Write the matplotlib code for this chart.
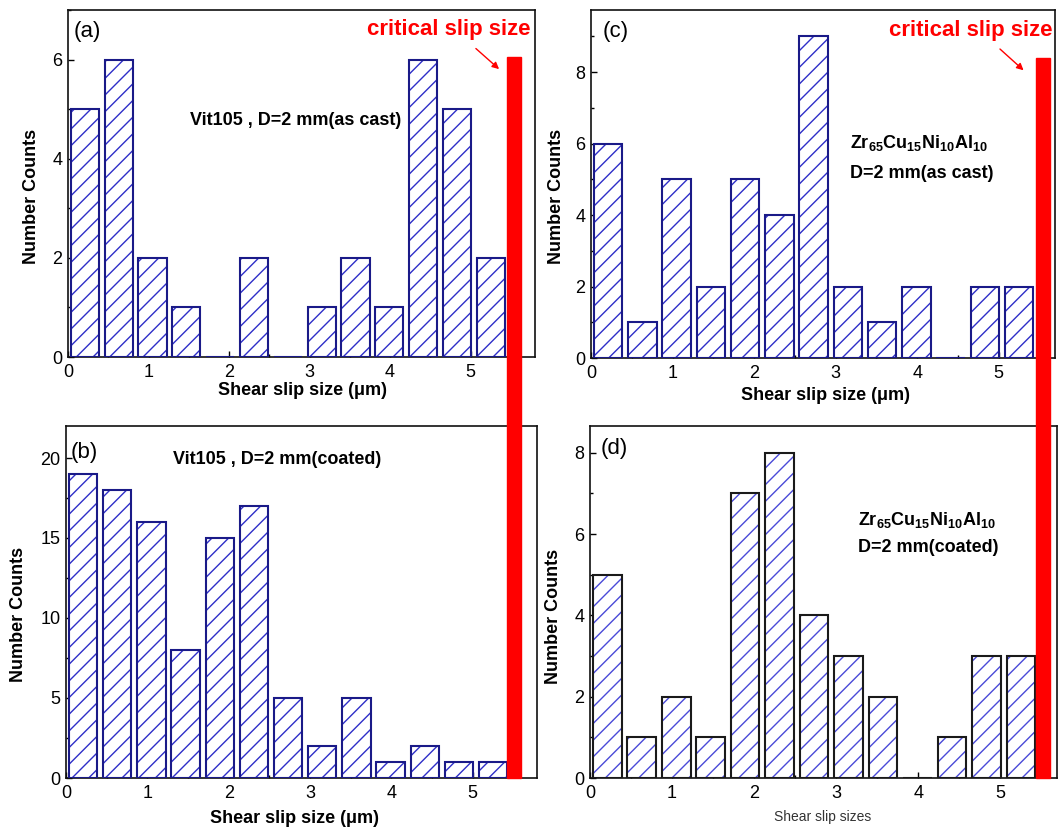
import numpy as np
import matplotlib
matplotlib.use("Agg")
import matplotlib.pyplot as plt
from matplotlib.patches import Rectangle
from matplotlib.ticker import MultipleLocator

plt.rcParams['font.family'] = ['Liberation Sans', 'DejaVu Sans']
plt.rcParams['mathtext.fontset'] = 'custom'
plt.rcParams['mathtext.rm'] = 'Liberation Sans:bold'
plt.rcParams['mathtext.it'] = 'Liberation Sans:bold'
plt.rcParams['mathtext.default'] = 'rm'
plt.rcParams['hatch.linewidth'] = 1.0

# ---- data
bin_centers = [0.21, 0.63, 1.05, 1.47, 1.89, 2.31, 2.73, 3.15, 3.57, 3.99, 4.41, 4.83, 5.25]
counts_a = [5, 6, 2, 1, 0, 2, 0, 1, 2, 1, 6, 5, 2]
counts_b = [19, 18, 16, 8, 15, 17, 5, 2, 5, 1, 2, 1, 1]
counts_c = [6, 1, 5, 2, 5, 4, 9, 2, 1, 2, 0, 2, 2]
counts_d = [5, 1, 2, 1, 7, 8, 4, 3, 2, 0, 1, 3, 3]
critical_size = 5.54
critical_top = {'a': 6.05, 'c': 8.4}

label_a = "Vit105 , D=2 mm(as cast)"
label_b = "Vit105 , D=2 mm(coated)"
alloy = r"Zr$_{65}$Cu$_{15}$Ni$_{10}$Al$_{10}$"
label_c = "D=2 mm(as cast)"
label_d = "D=2 mm(coated)"

W, H = 1063, 830
fig = plt.figure(figsize=(W / 100, H / 100), dpi=100)


def add_ax(l, t, r, b):
    return fig.add_axes([l / W, 1 - b / H, (r - l) / W, (b - t) / H])


def px_to_axes(ax, px, py):
    # figure pixel (y from top) -> axes fraction
    bb = ax.get_position()
    return ((px / W - bb.x0) / bb.width, ((1 - py / H) - bb.y0) / bb.height)


def hatched_bars(ax, counts, edge, hatch_col):
    ax.bar(bin_centers, counts, width=0.35, color='white', edgecolor=hatch_col,
           hatch='//', linewidth=0, zorder=2)
    ax.bar(bin_centers, counts, width=0.35, fill=False, edgecolor=edge,
           linewidth=1.5, zorder=3)


def style(ax, xmax, ymax, ymaj, ymin):
    ax.set_xlim(0, xmax)
    ax.set_ylim(0, ymax)
    ax.xaxis.set_major_locator(MultipleLocator(1))
    ax.xaxis.set_minor_locator(MultipleLocator(0.5))
    ax.yaxis.set_major_locator(MultipleLocator(ymaj))
    ax.yaxis.set_minor_locator(MultipleLocator(ymin))
    ax.tick_params(which='both', direction='in', top=False, right=False,
                   labelsize=13, width=1)
    ax.tick_params(axis='x', pad=5)
    ax.tick_params(axis='y', pad=4)
    ax.tick_params(which='major', length=4)
    ax.tick_params(which='minor', length=2.5)
    for s in ax.spines.values():
        s.set_linewidth(1.2)
        s.set_color('#111111')


def labels(ax, xlab, xc, ylab_x, ylab_y, xkw=None):
    xkw = xkw or dict(fontsize=13, fontweight='bold')
    ax.set_xlabel(xlab, va='center', **xkw)
    ax.xaxis.set_label_coords(*px_to_axes(ax, *xc))
    ax.set_ylabel("Number Counts", fontsize=13, fontweight='bold', va='center', ha='center')
    ax.yaxis.set_label_coords(*px_to_axes(ax, ylab_x, ylab_y))


navy = '#1a1a88'
hblue = '#2e2ec8'

ax_a = add_ax(68, 10, 535, 357)
ax_b = add_ax(66, 426, 537, 778)
ax_c = add_ax(591, 10, 1055, 358)
ax_d = add_ax(590, 426, 1057, 778)

hatched_bars(ax_a, counts_a, navy, hblue)
hatched_bars(ax_b, counts_b, navy, hblue)
hatched_bars(ax_c, counts_c, navy, hblue)
hatched_bars(ax_d, counts_d, '#1a1a1a', '#4a4ad8')

style(ax_a, 5.8, 7.0, 2, 1)
style(ax_b, 5.79, 22, 5, 2.5)
style(ax_c, 5.69, 9.74, 2, 1)
style(ax_d, 5.69, 8.66, 2, 1)

xl = "Shear slip size (\u03bcm)"
labels(ax_a, xl, (302, 390), 31, 196)
labels(ax_b, xl, (294, 818), 19, 614)
labels(ax_c, xl, (825, 395), 556, 196)
labels(ax_d, "Shear slip sizes", (823, 817), 554, 616,
       xkw=dict(fontsize=10, color='#333333'))

# panel letters
for ax, letter, (px, py) in [(ax_a, '(a)', (74, 32)), (ax_b, '(b)', (71, 452)),
                              (ax_c, '(c)', (603, 32)), (ax_d, '(d)', (601, 448))]:
    ax.text(*px_to_axes(ax, px, py), letter, transform=ax.transAxes,
            fontsize=16, ha='left', va='center', zorder=5)

# sample annotations
ax_a.text(2.83, 4.77, label_a, fontsize=13, fontweight='bold', ha='center', va='center')
ax_b.text(2.59, 19.9, label_b, fontsize=13, fontweight='bold', ha='center', va='center')
ax_c.text(3.18, 6.01, alloy, fontsize=13, fontweight='bold', ha='left', va='center')
ax_c.text(3.18, 5.17, label_c, fontsize=13, fontweight='bold', ha='left', va='center')
ax_d.text(3.26, 6.35, alloy, fontsize=13, fontweight='bold', ha='left', va='center')
ax_d.text(3.26, 5.66, label_d, fontsize=13, fontweight='bold', ha='left', va='center')

# critical slip size text + arrow
ax_a.text(5.74, 6.6, "critical slip size", color='red', fontsize=16,
          fontweight='bold', ha='right', va='center', zorder=6)
ax_a.annotate("", xy=(5.38, 5.77), xytext=(5.04, 6.26),
              arrowprops=dict(arrowstyle='-|>', color='red', lw=1, mutation_scale=10))
ax_c.text(5.66, 9.18, "critical slip size", color='red', fontsize=16,
          fontweight='bold', ha='right', va='center', zorder=6)
ax_c.annotate("", xy=(5.33, 8.0), xytext=(4.99, 8.70),
              arrowprops=dict(arrowstyle='-|>', color='red', lw=1, mutation_scale=10))

# red critical bar spanning top and bottom panels
inv = fig.transFigure.inverted()
for top_ax, bot_ax, key in [(ax_a, ax_b, 'a'), (ax_c, ax_d, 'c')]:
    x0, y1 = top_ax.transData.transform((critical_size - 0.085, critical_top[key]))
    x1, _ = top_ax.transData.transform((critical_size + 0.085, 0))
    _, y0 = bot_ax.transData.transform((0, 0))
    (fx0, fy0), (fx1, fy1) = inv.transform([(x0, y0), (x1, y1)])
    fig.patches.append(Rectangle((fx0, fy0), fx1 - fx0, fy1 - fy0,
                                 transform=fig.transFigure, color='#ff0000',
                                 zorder=10, figure=fig))

fig.savefig("out.png", dpi=100)
